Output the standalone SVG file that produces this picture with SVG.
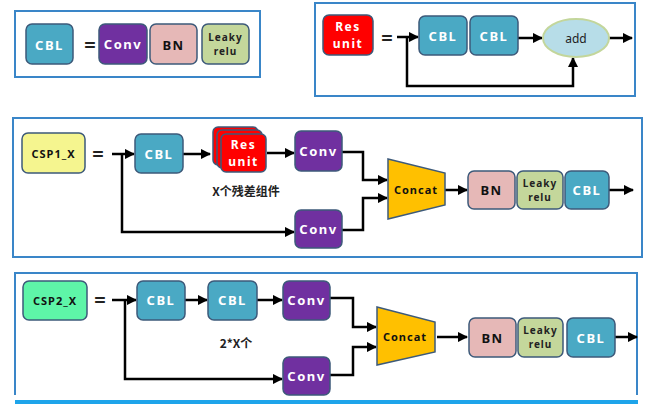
<svg xmlns="http://www.w3.org/2000/svg" width="653" height="408" viewBox="0 0 653 408">
<defs>
<marker id="ah" viewBox="0 0 10 10" refX="9" refY="5" markerWidth="4.2" markerHeight="4.2" orient="auto" markerUnits="strokeWidth">
<path d="M0,0 L10,5 L0,10 z" fill="#000"/>
</marker>
</defs>
<style>
.frame{fill:#fff;stroke:#3a86c8;stroke-width:2}
.nd{stroke:#3d5a7a;stroke-width:1.5}
.cbl{fill:#4aa9c4}
.conv{fill:#7030a0}
.bn{fill:#e6b8b7}
.lr{fill:#c4d79b}
.res{fill:#ff0000}
.t{font-family:"Noto Sans","Liberation Sans",sans-serif;font-weight:bold;text-anchor:middle;dominant-baseline:central}
.w{fill:#fff;font-size:13px;letter-spacing:1.5px}
.r{fill:#fff;font-size:12px;letter-spacing:1.5px}
.k{fill:#111;font-size:13px;letter-spacing:1.5px}
.s{fill:#222;font-size:10px;letter-spacing:1px}
.eq{fill:#222;font-size:20px}
.ca{fill:none;stroke:#000;stroke-width:2.5;marker-end:url(#ah)}
</style>
<rect class="frame" x="15" y="11" width="245" height="66"/>
<rect class="frame" x="315" y="3" width="320" height="93"/>
<rect class="frame" x="13" y="118" width="629" height="139"/>
<path d="M15,395 L15,273 L637,273 L637,395" fill="#fff" stroke="#3a86c8" stroke-width="2"/>
<rect x="15" y="400" width="623" height="4" fill="#1ea4ea"/>

<g id="connectors">
<path class="ca" d="M397,37 L418,37"/>
<path class="ca" d="M407,37 L407,86 L573,86 L573,58"/>
<path class="ca" d="M518,38 L542,38"/>
<path class="ca" d="M609,38 L632,38"/>

<path class="ca" d="M112,154 L134,154"/>
<path class="ca" d="M122,154 L122,232 L294,232"/>
<path class="ca" d="M183,154 L210,154"/>
<path class="ca" d="M267,153 L294,153"/>
<path class="ca" d="M342,152 L363,152 L363,180 L387,180"/>
<path class="ca" d="M342,230 L363,230 L363,198 L387,198"/>
<path class="ca" d="M445,190 L467,190"/>
<path class="ca" d="M609,190 L633,190"/>

<path class="ca" d="M112,300 L136,300"/>
<path class="ca" d="M125,300 L125,379 L282,379"/>
<path class="ca" d="M185,300 L207,300"/>
<path class="ca" d="M257,300 L282,300"/>
<path class="ca" d="M330,298 L353,298 L353,327 L376,327"/>
<path class="ca" d="M330,375 L353,375 L353,347 L376,347"/>
<path class="ca" d="M437,337 L467,337"/>
<path class="ca" d="M615,337 L637,337"/>
</g>

<g id="cbl-def">
<rect class="nd cbl" x="26" y="24" width="47" height="40" rx="6"/>
<text class="t w" x="49.5" y="45">CBL</text>
</g>
<text class="t eq" x="90" y="44">=</text>
<g id="cbl-conv"><rect class="nd conv" x="99" y="24" width="48" height="40" rx="6"/><text class="t w" x="123" y="44">Conv</text></g>
<g id="cbl-bn"><rect class="nd bn" x="150" y="24" width="47" height="40" rx="6"/><text class="t k" x="173.5" y="45">BN</text></g>
<g id="cbl-lr"><rect class="nd lr" x="202" y="24" width="47" height="40" rx="6"/><text class="t s" x="225.5" y="37">Leaky</text><text class="t s" x="225.5" y="51">relu</text></g>

<g id="res-def"><rect class="nd res" x="323" y="15" width="50" height="40" rx="6"/><text class="t r" x="348" y="26.5">Res</text><text class="t r" x="348" y="43.5">unit</text></g>
<text class="t eq" x="387" y="37">=</text>
<g id="res-cbl1"><rect class="nd cbl" x="419" y="16" width="48" height="39" rx="6"/><text class="t w" x="443" y="36">CBL</text></g>
<g id="res-cbl2"><rect class="nd cbl" x="470" y="16" width="48" height="39" rx="6"/><text class="t w" x="494" y="36">CBL</text></g>
<g id="res-add"><ellipse cx="576" cy="38" rx="33" ry="19" fill="#b7dde8" stroke="#c3d69b" stroke-width="2"/><text x="576" y="38" font-family="Noto Sans, Liberation Sans, sans-serif" font-size="12" text-anchor="middle" dominant-baseline="central" fill="#222">add</text></g>

<g id="csp1-def"><rect class="nd" fill="#f5f58f" x="22" y="133" width="63" height="40" rx="6"/><text class="t k" x="53.5" y="153" style="font-size:11px;letter-spacing:1px">CSP1_X</text></g>
<text class="t eq" x="98" y="153">=</text>
<g id="csp1-cbl"><rect class="nd cbl" x="135" y="134" width="48" height="39" rx="6"/><text class="t w" x="159" y="154">CBL</text></g>
<g id="csp1-res">
<rect class="nd res" x="213" y="127" width="45" height="38" rx="5"/>
<rect class="nd res" x="217" y="130" width="45" height="38" rx="5"/>
<rect class="nd res" x="221" y="134" width="45" height="38" rx="5"/>
<text class="t r" x="243.5" y="144.5">Res</text><text class="t r" x="243.5" y="161.5">unit</text>
</g>
<text class="t" x="246" y="190" font-size="12" fill="#222" style="font-family:'Noto Sans CJK SC','Noto Sans',sans-serif">X个残差组件</text>
<g id="csp1-conv1"><rect class="nd conv" x="295" y="131" width="47" height="40" rx="6"/><text class="t w" x="318.5" y="151">Conv</text></g>
<g id="csp1-conv2"><rect class="nd conv" x="295" y="210" width="47" height="38" rx="6"/><text class="t w" x="318.5" y="229">Conv</text></g>
<g id="csp1-concat"><path d="M388,159 L445,173 L445,205 L388,219 z" fill="#ffc000" stroke="#3d5a7a" stroke-width="1.5"/><text class="t k" x="416" y="189" style="font-size:11px;letter-spacing:1px">Concat</text></g>
<g id="csp1-bn"><rect class="nd bn" x="468" y="171" width="47" height="38" rx="6"/><text class="t k" x="491.5" y="190">BN</text></g>
<g id="csp1-lr"><rect class="nd lr" x="517" y="171" width="46" height="38" rx="6"/><text class="t s" x="540" y="183">Leaky</text><text class="t s" x="540" y="197">relu</text></g>
<g id="csp1-cbl2"><rect class="nd cbl" x="565" y="171" width="44" height="38" rx="6"/><text class="t w" x="587" y="190">CBL</text></g>

<g id="csp2-def"><rect class="nd" fill="#5ef5a8" x="23" y="281" width="64" height="39" rx="6"/><text class="t k" x="55" y="300" style="font-size:11px;letter-spacing:1px">CSP2_X</text></g>
<text class="t eq" x="100" y="299">=</text>
<g id="csp2-cbl1"><rect class="nd cbl" x="137" y="281" width="48" height="39" rx="6"/><text class="t w" x="161" y="300">CBL</text></g>
<g id="csp2-cbl2"><rect class="nd cbl" x="208" y="281" width="49" height="39" rx="6"/><text class="t w" x="232.5" y="300">CBL</text></g>
<text class="t" x="236" y="342" font-size="12" fill="#222" style="font-family:'Noto Sans CJK SC','Noto Sans',sans-serif">2*X个</text>
<g id="csp2-conv1"><rect class="nd conv" x="283" y="281" width="47" height="39" rx="6"/><text class="t w" x="306.5" y="300">Conv</text></g>
<g id="csp2-conv2"><rect class="nd conv" x="283" y="357" width="47" height="38" rx="6"/><text class="t w" x="306.5" y="376">Conv</text></g>
<g id="csp2-concat"><path d="M377,307 L435,322 L435,352 L377,365 z" fill="#ffc000" stroke="#3d5a7a" stroke-width="1.5"/><text class="t k" x="405" y="336" style="font-size:11px;letter-spacing:1px">Concat</text></g>
<g id="csp2-bn"><rect class="nd bn" x="469" y="318" width="47" height="39" rx="6"/><text class="t k" x="492.5" y="338">BN</text></g>
<g id="csp2-lr"><rect class="nd lr" x="518" y="318" width="45" height="39" rx="6"/><text class="t s" x="540.5" y="330">Leaky</text><text class="t s" x="540.5" y="344">relu</text></g>
<g id="csp2-cbl3"><rect class="nd cbl" x="567" y="318" width="48" height="39" rx="6"/><text class="t w" x="591" y="338">CBL</text></g>
</svg>
